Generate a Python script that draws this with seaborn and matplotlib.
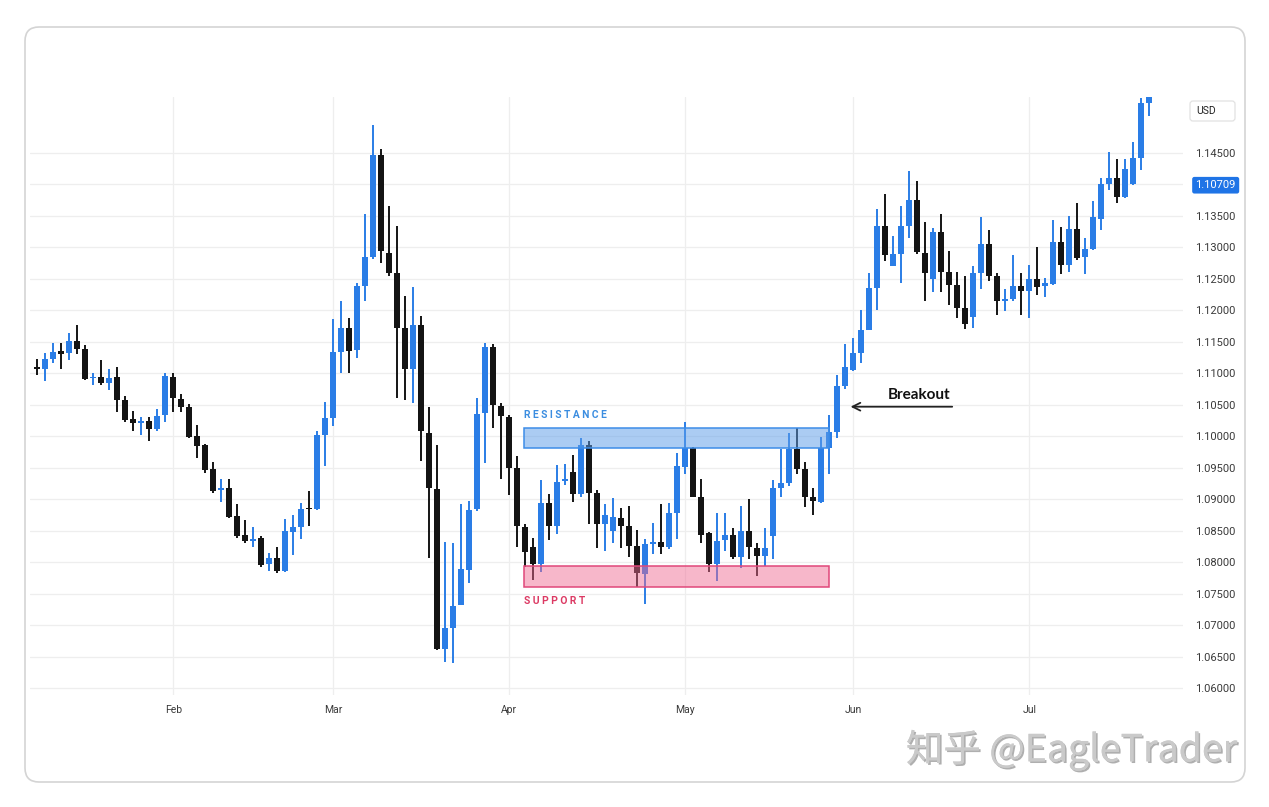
import seaborn as sns
import matplotlib.pyplot as plt
import matplotlib.patheffects as pe
from matplotlib.patches import FancyBboxPatch, Rectangle
import numpy as np
import pandas as pd

# daily bars, one per trading day (mid Jan -> late Jul)
opens = [
    1.11092, 1.11063, 1.11232, 1.11349, 1.11327, 1.11513, 1.11381, 1.10920, 1.10936, 1.10851,
    1.10936, 1.10576, 1.10269, 1.10215, 1.10242, 1.10115, 1.10333, 1.10946, 1.10596, 1.10469,
    1.10004, 1.09856, 1.09475, 1.09151, 1.09182, 1.08733, 1.08426, 1.08340, 1.08378, 1.07970,
    1.08061, 1.07864, 1.08483, 1.08563, 1.08855, 1.08844, 1.10020, 1.10285, 1.11343, 1.11715,
    1.11370, 1.12387, 1.12852, 1.14457, 1.12906, 1.12598, 1.11715, 1.11063, 1.11767, 1.10056,
    1.09157, 1.06615, 1.06958, 1.07319, 1.07875, 1.08839, 1.10364, 1.11423, 1.10480, 1.10310,
    1.09491, 1.08563, 1.08235, 1.07970, 1.08944, 1.08574, 1.09289, 1.09437, 1.09082, 1.09861,
    1.09103, 1.08606, 1.08499, 1.08696, 1.08574, 1.08256, 1.07811, 1.08288, 1.08324, 1.08245,
    1.08776, 1.09516, 1.09808, 1.09030, 1.08458, 1.07970, 1.08351, 1.08431, 1.08086, 1.08499,
    1.08220, 1.08097, 1.08415, 1.09173, 1.09252, 1.09792, 1.09475, 1.09030, 1.08960, 1.09808,
    1.10072, 1.10798, 1.11052, 1.11318, 1.11688, 1.12350, 1.13340, 1.12705, 1.12895, 1.13340,
    1.13753, 1.12906, 1.12493, 1.13234, 1.12614, 1.12403, 1.12033, 1.11899, 1.12589, 1.13054,
    1.12535, 1.12153, 1.12176, 1.12387, 1.12312, 1.12493, 1.12376, 1.12419, 1.13075, 1.12721,
    1.13288, 1.12843, 1.12970, 1.13447, 1.14008, 1.14098, 1.13796, 1.14008, 1.14416, 1.15290,
]
highs = [
    1.11222, 1.11318, 1.11486, 1.11486, 1.11635, 1.11767, 1.11450, 1.11000, 1.11211, 1.11063,
    1.11105, 1.10639, 1.10406, 1.10301, 1.10310, 1.10428, 1.11000, 1.11000, 1.10671, 1.10512,
    1.10179, 1.09877, 1.09595, 1.09316, 1.09316, 1.08923, 1.08669, 1.08563, 1.08415, 1.08150,
    1.08235, 1.08680, 1.08749, 1.08935, 1.09135, 1.10088, 1.10549, 1.11858, 1.12138, 1.11874,
    1.12439, 1.13531, 1.14945, 1.14559, 1.13658, 1.13329, 1.12228, 1.12371, 1.11910, 1.10469,
    1.09861, 1.08324, 1.08308, 1.08923, 1.08976, 1.10603, 1.11486, 1.11465, 1.10533, 1.10337,
    1.09686, 1.08606, 1.08378, 1.09305, 1.09082, 1.09543, 1.09559, 1.09702, 1.09967, 1.09929,
    1.09146, 1.08923, 1.09014, 1.08855, 1.08892, 1.08510, 1.08363, 1.08617, 1.08923, 1.08944,
    1.09729, 1.10231, 1.09834, 1.09316, 1.08483, 1.08776, 1.08776, 1.08537, 1.08892, 1.08998,
    1.08308, 1.08537, 1.09305, 1.09792, 1.10047, 1.10126, 1.09595, 1.09173, 1.09983, 1.10337,
    1.10973, 1.11465, 1.11556, 1.12006, 1.12589, 1.13606, 1.13849, 1.13170, 1.13647, 1.14203,
    1.14044, 1.13393, 1.13304, 1.13531, 1.12932, 1.12614, 1.12546, 1.12694, 1.13478, 1.13266,
    1.12589, 1.12335, 1.12879, 1.12598, 1.12721, 1.13011, 1.12509, 1.13424, 1.13319, 1.13499,
    1.13701, 1.13145, 1.13726, 1.14098, 1.14505, 1.14400, 1.14400, 1.14664, 1.15369, 1.15422,
]
lows = [
    1.10973, 1.10882, 1.11159, 1.11063, 1.11211, 1.11302, 1.10894, 1.10814, 1.10814, 1.10735,
    1.10390, 1.10231, 1.10088, 1.10020, 1.09929, 1.10088, 1.10231, 1.10390, 1.10390, 1.09967,
    1.09649, 1.09421, 1.09103, 1.08960, 1.08696, 1.08378, 1.08299, 1.08235, 1.07918, 1.07864,
    1.07832, 1.07848, 1.08113, 1.08363, 1.08574, 1.08828, 1.09527, 1.10163, 1.11000, 1.11000,
    1.11238, 1.12138, 1.12811, 1.12748, 1.12546, 1.10603, 1.10576, 1.10528, 1.09607, 1.08061,
    1.06604, 1.06418, 1.06402, 1.07673, 1.07673, 1.08817, 1.09580, 1.10126, 1.09316, 1.09066,
    1.08245, 1.07927, 1.07716, 1.07848, 1.08351, 1.08447, 1.09225, 1.08960, 1.09039, 1.08606,
    1.08220, 1.08181, 1.08308, 1.08220, 1.08077, 1.07609, 1.07335, 1.08129, 1.08129, 1.08204,
    1.08363, 1.09400, 1.09030, 1.08308, 1.07848, 1.07705, 1.08181, 1.08045, 1.07902, 1.08045,
    1.07779, 1.07938, 1.08045, 1.09039, 1.09209, 1.09400, 1.08881, 1.08749, 1.08944, 1.09400,
    1.09967, 1.10746, 1.11041, 1.11159, 1.11688, 1.11995, 1.12773, 1.12694, 1.12430, 1.13145,
    1.12895, 1.12153, 1.12296, 1.12296, 1.12085, 1.11874, 1.11699, 1.11715, 1.12335, 1.12471,
    1.11926, 1.11979, 1.12138, 1.11926, 1.11874, 1.12244, 1.12217, 1.12403, 1.12578, 1.12614,
    1.12800, 1.12578, 1.12948, 1.13266, 1.13901, 1.13701, 1.13780, 1.13992, 1.14230, 1.15077,
]
closes = [
    1.11076, 1.11222, 1.11338, 1.11307, 1.11518, 1.11391, 1.10905, 1.10941, 1.10851, 1.10930,
    1.10576, 1.10258, 1.10215, 1.10237, 1.10115, 1.10322, 1.10962, 1.10603, 1.10469, 1.09993,
    1.09845, 1.09464, 1.09135, 1.09173, 1.08722, 1.08415, 1.08340, 1.08363, 1.07954, 1.08061,
    1.07864, 1.08499, 1.08553, 1.08839, 1.08839, 1.10020, 1.10285, 1.11343, 1.11715, 1.11359,
    1.12376, 1.12837, 1.14457, 1.12932, 1.12589, 1.11715, 1.11063, 1.11762, 1.10083, 1.09173,
    1.06615, 1.06958, 1.07303, 1.07886, 1.08828, 1.10353, 1.11423, 1.10496, 1.10322, 1.09491,
    1.08574, 1.08166, 1.07970, 1.08944, 1.08574, 1.09278, 1.09325, 1.09082, 1.09861, 1.09103,
    1.08606, 1.08749, 1.08712, 1.08574, 1.08256, 1.07822, 1.08288, 1.08324, 1.08245, 1.08776,
    1.09527, 1.09808, 1.09039, 1.08431, 1.07970, 1.08340, 1.08431, 1.08086, 1.08499, 1.08235,
    1.08097, 1.08220, 1.09173, 1.09252, 1.09792, 1.09475, 1.09039, 1.08976, 1.09808, 1.10072,
    1.10798, 1.11095, 1.11318, 1.11688, 1.12350, 1.13340, 1.12879, 1.12895, 1.13340, 1.13753,
    1.12916, 1.12589, 1.13234, 1.12614, 1.12403, 1.12033, 1.11783, 1.12589, 1.13054, 1.12535,
    1.12153, 1.12176, 1.12387, 1.12312, 1.12493, 1.12366, 1.12439, 1.13075, 1.12721, 1.13288,
    1.12827, 1.12970, 1.13478, 1.14008, 1.14098, 1.13796, 1.14241, 1.14416, 1.15290, 1.15385,
]

# first bar of each month
month_pos = [17, 37, 59, 81, 102, 124]
month_names = ["Feb", "Mar", "Apr", "May", "Jun", "Jul"]

price_ticks = [1.060, 1.065, 1.070, 1.075, 1.080, 1.085, 1.090, 1.095, 1.100,
               1.105, 1.110, 1.115, 1.120, 1.125, 1.130, 1.135, 1.140, 1.145]
last_price = "1.10709"   # price tag shown where 1.14000 would be

resistance = (1.09813, 1.10131)
support = (1.07605, 1.07938)

df = pd.DataFrame({"open": opens, "high": highs, "low": lows, "close": closes})
df["bar"] = np.arange(len(df))
df["up"] = df["close"] >= df["open"]

sns.set_theme(style="white")
plt.rcParams["font.family"] = ["Roboto", "DejaVu Sans"]

blue = "#2a7de6"
black = "#141414"

fig = plt.figure(figsize=(12.69, 8.07), dpi=100)

# card frame, in pixel coords
bg = fig.add_axes([0, 0, 1, 1])
bg.set_xlim(0, 1269)
bg.set_ylim(807, 0)
bg.axis("off")
bg.add_patch(FancyBboxPatch((25, 27), 1220, 755, boxstyle="round,pad=0,rounding_size=14",
                            fc="white", ec="#d4d4d4", lw=1.2))
bg.add_patch(FancyBboxPatch((1190, 101), 45, 20, boxstyle="round,pad=0,rounding_size=3",
                            fc="white", ec="#e2e2e2", lw=0.9))
bg.text(1196, 111.5, "USD", ha="left", va="center", fontsize=7.5, color="#222222")
bg.text(1238, 750, "知乎 @EagleTrader", ha="right", va="center", fontsize=27,
        fontweight="light", color="#cacaca", family=["Noto Sans CJK SC", "DejaVu Sans"],
        path_effects=[pe.withSimplePatchShadow(offset=(1.2, -1.2), shadow_rgbFace="#7a7a7a", alpha=0.6),
                      pe.Normal()])

ax = fig.add_axes([30 / 1269, 1 - 695 / 807, (1183 - 30) / 1269, (695 - 97) / 807])
ax.set_facecolor("none")

colors = np.where(df["up"], blue, black)
body = (df["close"] - df["open"]).abs()
mid = (df["close"] + df["open"]) / 2
body_h = np.maximum(body, 0.00024)
body_lo = mid - body_h / 2

ax.vlines(df["bar"], df["low"], df["high"], colors=colors, lw=1.4, zorder=3)
ax.bar(df["bar"], body_h, bottom=body_lo, width=0.74, color=colors, linewidth=0, zorder=4)

# zones
x0, x1 = 60.8, 98.9
ax.add_patch(Rectangle((x0, resistance[0]), x1 - x0, resistance[1] - resistance[0],
                       fc="#5f9ee9", alpha=0.52, ec="none", zorder=5))
ax.add_patch(Rectangle((x0, resistance[0]), x1 - x0, resistance[1] - resistance[0],
                       fc="none", ec="#3d8de8", lw=1.1, zorder=6))
ax.add_patch(Rectangle((x0, support[0]), x1 - x0, support[1] - support[0],
                       fc="#f06a92", alpha=0.48, ec="none", zorder=5))
ax.add_patch(Rectangle((x0, support[0]), x1 - x0, support[1] - support[0],
                       fc="none", ec="#e0487a", lw=1.1, zorder=6))
ax.text(x0, 1.10337, "R E S I S T A N C E", ha="left", va="center", fontsize=7.4,
        fontweight="bold", color="#3b8de0")
ax.text(x0, 1.07383, "S U P P O R T", ha="left", va="center", fontsize=7.4,
        fontweight="bold", color="#dc3a64")

ax.annotate("", xy=(101.3, 1.10467), xytext=(114.7, 1.10467),
            arrowprops=dict(arrowstyle="->", lw=1.3, color="#222222", mutation_scale=14))
ax.text(110.2, 1.10658, "Breakout", ha="center", va="center", fontsize=11,
        fontweight="bold", color="#111111", family=["Lato", "DejaVu Sans"])

ax.set_xlim(-0.91, 143.2)
ax.set_ylim(1.05889, 1.15385)
ax.set_xticks(month_pos, month_names)
ylabels = [last_price if abs(t - 1.140) < 1e-9 else f"{t:.5f}" for t in price_ticks]
ax.set_yticks(price_ticks, ylabels)
ax.yaxis.tick_right()
ax.tick_params(axis="both", length=0, colors="#3a3a3a")
ax.tick_params(axis="y", pad=9, labelsize=8)
ax.tick_params(axis="x", pad=7, labelsize=7.5)
for lbl in ax.get_yticklabels():
    if lbl.get_text() == last_price:
        lbl.set_color("white")
        lbl.set_bbox(dict(boxstyle="round,pad=0.3,rounding_size=0.2", fc="#1f74e6", ec="none"))
ax.grid(True, color="#eeeeee", lw=0.9, zorder=0)
ax.set_axisbelow(True)
for s in ax.spines.values():
    s.set_visible(False)

fig.savefig("out.png", dpi=100)
